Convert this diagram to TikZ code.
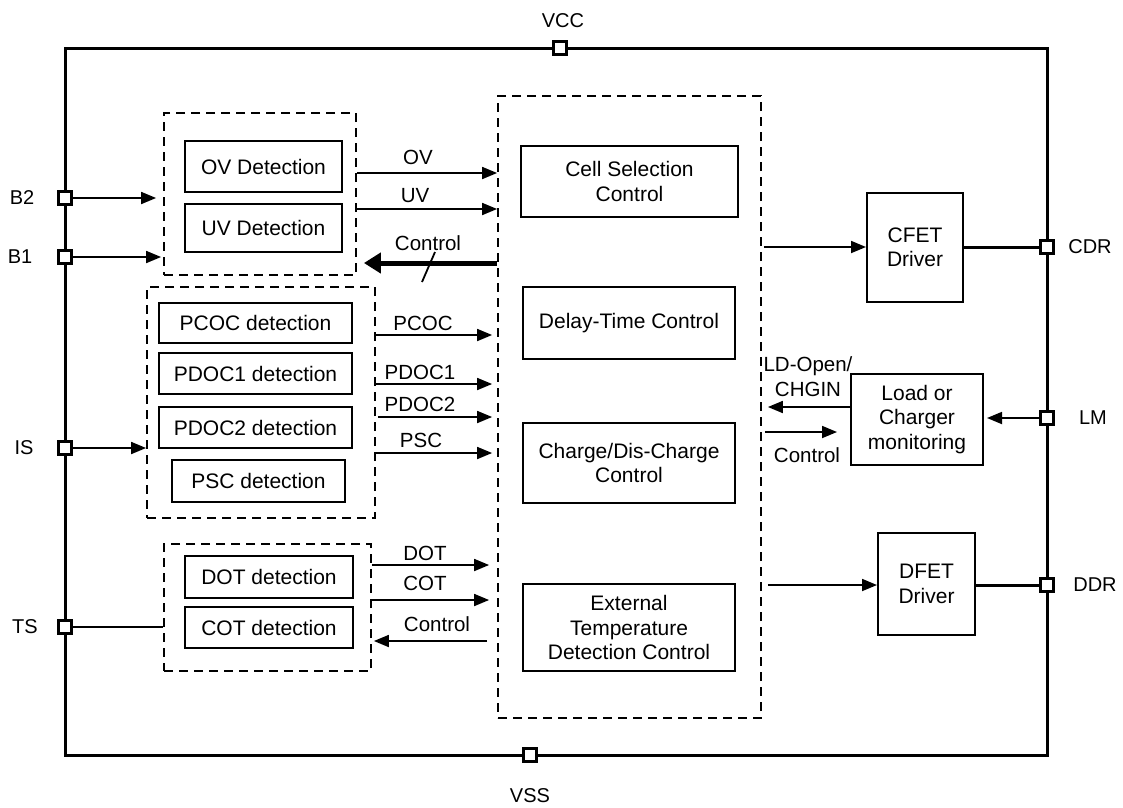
\documentclass[tikz,border=0pt]{standalone}
\usepackage{fontspec}
\setmainfont{Liberation Sans}
\usetikzlibrary{arrows.meta,calc}
\begin{document}
\begin{tikzpicture}[x=1pt,y=-1pt,
  every node/.style={font=\fontsize{21}{24.5}\selectfont, inner sep=0pt},
  blk/.style={draw, line width=2pt, align=center},
  grp/.style={draw, line width=1.8pt, dash pattern=on 9pt off 6pt},
  pinbox/.style={draw, line width=3pt, fill=white, minimum size=13pt},
  arr/.style={line width=1.8pt, -{Triangle[length=15pt,width=12pt]}},
  thickarr/.style={line width=5pt, -{Triangle[length=17pt,width=20pt]}},
  lbl/.style={font=\fontsize{20.5}{25}\selectfont, align=center},
  pinlbl/.style={font=\fontsize{20}{24}\selectfont},
  thickline/.style={line width=3pt},
]
\useasboundingbox (0,0) rectangle (1123,807);

% outer frame
\draw[thickline] (65,48) rectangle (1047,755);

% pins
\node[pinbox] (vcc) at (560,48) {};
\node[pinbox] (vss) at (530,755) {};
\node[pinbox] (b2) at (65,198) {};
\node[pinbox] (b1) at (65,257) {};
\node[pinbox] (is) at (65,448) {};
\node[pinbox] (ts) at (65,627) {};
\node[pinbox] (cdr) at (1047,247) {};
\node[pinbox] (lm) at (1047,418) {};
\node[pinbox] (ddr) at (1047,585) {};

\node[pinlbl] (tvcc) at (563,21) {VCC};
\node[pinlbl] (tvss) at (530,796) {VSS};
\node[pinlbl] (tb2) at (22,198) {B2};
\node[pinlbl] (tb1) at (20,257) {B1};
\node[pinlbl] (tis) at (24,448) {IS};
\node[pinlbl] (tts) at (25,627) {TS};
\node[pinlbl] (tcdr) at (1090,247) {CDR};
\node[pinlbl] (tlm) at (1093,418) {LM};
\node[pinlbl] (tddr) at (1095,585) {DDR};

% dashed groups
\node[grp, minimum width=192, minimum height=162] (g1) at (260,194) {};
\node[grp, minimum width=228, minimum height=231] (g2) at (261,402.5) {};
\node[grp, minimum width=207, minimum height=127] (g3) at (267.5,607.5) {};
\node[grp, minimum width=263, minimum height=622] (big) at (629.5,407) {};

% blocks
\node[blk, minimum width=157, minimum height=51] (ov) at (263.5,166.5) {OV Detection};
\node[blk, minimum width=157, minimum height=48] (uv) at (263.5,228) {UV Detection};
\node[blk, minimum width=193, minimum height=40] (pcoc) at (255.5,323) {PCOC detection};
\node[blk, minimum width=193, minimum height=41] (pdoc1) at (255.5,373.5) {PDOC1 detection};
\node[blk, minimum width=193, minimum height=41] (pdoc2) at (255.5,427.5) {PDOC2 detection};
\node[blk, minimum width=173, minimum height=42] (psc) at (258.5,481) {PSC detection};
\node[blk, minimum width=168, minimum height=42] (dot) at (269,577) {DOT detection};
\node[blk, minimum width=168, minimum height=41] (cot) at (269,627.5) {COT detection};

\node[blk, minimum width=217, minimum height=71] (cell) at (629.5,181.5) {Cell Selection\\Control};
\node[blk, minimum width=212, minimum height=72] (delay) at (629,323) {Delay-Time Control};
\node[blk, minimum width=212, minimum height=80] (charge) at (629,463) {Charge/Dis-Charge\\Control};
\node[blk, minimum width=212, minimum height=87] (ext) at (629,627.5) {External\\Temperature\\Detection Control};

\node[blk, minimum width=96, minimum height=109] (cfet) at (915,247.5) {CFET\\Driver};
\node[blk, minimum width=132, minimum height=91] (load) at (917,419.5) {Load or\\Charger\\monitoring};
\node[blk, minimum width=97, minimum height=102] (dfet) at (926.5,584) {DFET\\Driver};

% y levels
\coordinate (yov) at (0,173);
\coordinate (yuv) at (0,209);
\coordinate (yctl) at (0,263);
\coordinate (ypcoc) at (0,335);
\coordinate (ypdoc1) at (0,384);
\coordinate (ypdoc2) at (0,417);
\coordinate (ypsc) at (0,453);
\coordinate (ydot) at (0,565);
\coordinate (ycot) at (0,600);
\coordinate (yc3) at (0,641);
\coordinate (yld) at (0,407);
\coordinate (ylc) at (0,432);

% left inputs
\draw[arr, shorten >=7pt] (b2) -- (b2 -| g1.west);
\draw[arr, shorten >=2pt] (b1) -- (b1 -| g1.west);
\draw[arr] (is) -- (is -| g2.west);
\draw[line width=1.8pt] (ts) -- (ts -| g3.west);

% OV/UV group
\draw[arr] (g1.east |- yov) -- (big.west |- yov);
\draw[arr] (g1.east |- yuv) -- (big.west |- yuv);
\draw[thickarr, shorten >=7pt] (big.west |- yctl) -- (g1.east |- yctl);
\draw[line width=1.8pt] (422,282) -- (435,252);
\node[lbl] (tov) at (418,157) {OV};
\node[lbl] (tuv) at (415,196) {UV};
\node[lbl] (tctl1) at (428,243) {Control};

% current group
\draw[arr, shorten >=5pt] (g2.east |- ypcoc) -- (big.west |- ypcoc);
\draw[arr, shorten >=5pt] (g2.east |- ypdoc1) -- (big.west |- ypdoc1);
\draw[arr, shorten >=5pt, shorten <=2pt] (g2.east |- ypdoc2) -- (big.west |- ypdoc2);
\draw[arr, shorten >=5pt] (g2.east |- ypsc) -- (big.west |- ypsc);
\node[lbl] (tpcoc) at (423,323) {PCOC};
\node[lbl] (tpdoc1) at (420,372) {PDOC1};
\node[lbl] (tpdoc2) at (420,404) {PDOC2};
\node[lbl] (tpsc) at (421,440) {PSC};

% temperature group
\draw[arr, shorten >=8pt] (g3.east |- ydot) -- (big.west |- ydot);
\draw[arr, shorten >=8pt] (g3.east |- ycot) -- (big.west |- ycot);
\draw[arr, shorten <=10pt, shorten >=2pt] (big.west |- yc3) -- (g3.east |- yc3);
\node[lbl] (tdot) at (425,553) {DOT};
\node[lbl] (tcot) at (425,583) {COT};
\node[lbl] (tctl2) at (437,624) {Control};

% right side
\draw[arr, shorten <=2pt] (big.east |- cdr) -- (cfet.west |- cdr);
\draw[thickline] (cfet.east |- cdr) -- (cdr);
\draw[arr, shorten <=6pt] (big.east |- ddr) -- (dfet.west |- ddr);
\draw[thickline] (dfet.east |- ddr) -- (ddr);
\draw[arr, shorten >=3pt] (lm) -- (load.east |- lm);
\draw[arr, shorten >=6pt] (load.west |- yld) -- (big.east |- yld);
\draw[arr, shorten <=3pt, shorten >=13pt] (big.east |- ylc) -- (load.west |- ylc);
\node[lbl] (tld) at (808,377) {LD-Open/\\CHGIN};
\node[lbl] (tctl3) at (807,455) {Control};
\end{tikzpicture}
\end{document}
